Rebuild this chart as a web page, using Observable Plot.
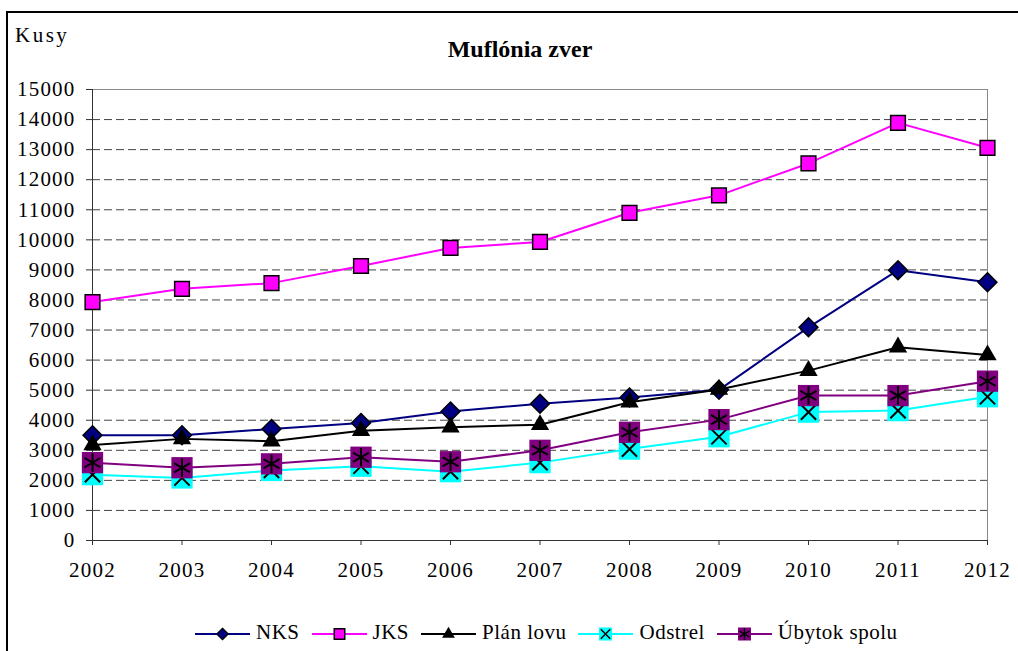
<!DOCTYPE html>
<html>
<head>
<meta charset="utf-8">
<script src="https://cdn.jsdelivr.net/npm/d3@7"></script>
<script src="https://cdn.jsdelivr.net/npm/@observablehq/plot@0.6"></script>
<style>
  body { margin: 0; background: #fff; }
  #wrap { position: relative; width: 1018px; height: 651px; overflow: hidden;
          font-family: "Liberation Serif", "Times New Roman", serif; color: #000; background: #fff; }
  #frame { position: absolute; left: 6px; top: 11px; width: 1100px; height: 700px;
           border: 2px solid #000; box-sizing: border-box; }
  #kusy { position: absolute; left: 15px; top: 25px; font-size: 21px; line-height: 1; letter-spacing: 2.5px; }
  #title { position: absolute; left: 520px; top: 37px; transform: translateX(-50%);
           font-size: 24px; font-weight: bold; line-height: 1; white-space: nowrap; }
  #chart { position: absolute; left: 0; top: 60px; }
  #legend { position: absolute; left: 195px; top: 622px; display: flex; align-items: flex-start;
            font-family: "Liberation Serif", "Times New Roman", serif;
            font-size: 21px; line-height: 1; white-space: nowrap; letter-spacing: 0.5px; }
  #legend .item { display: flex; align-items: flex-start; margin-right: 12px; }
  #legend svg { display: block; margin-right: 6px; margin-top: -1px; }
</style>
</head>
<body>
<div id="wrap">
  <div id="frame"></div>
  <div id="kusy">Kusy</div>
  <div id="title">Muflónia zver</div>
  <div id="chart"></div>
  <div id="legend"></div>
</div>
<script>
// ---- data ----
const years = [2002, 2003, 2004, 2005, 2006, 2007, 2008, 2009, 2010, 2011, 2012];
const seriesNames = ["NKS", "JKS", "Plán lovu", "Odstrel", "Úbytok spolu"];
const nks     = [3500, 3500, 3710, 3910, 4290, 4550, 4760, 5010, 7090, 8990, 8590];
const jks     = [7930, 8370, 8560, 9130, 9730, 9930, 10900, 11480, 12540, 13890, 13060];
const planLovu = [3180, 3380, 3300, 3650, 3770, 3850, 4600, 5020, 5650, 6430, 6170];
const odstrel = [2190, 2080, 2330, 2470, 2290, 2590, 3040, 3450, 4270, 4320, 4780];
const ubytok  = [2590, 2420, 2550, 2770, 2620, 3000, 3600, 4020, 4820, 4820, 5300];
const yTicks  = [0, 1000, 2000, 3000, 4000, 5000, 6000, 7000, 8000, 9000, 10000, 11000, 12000, 13000, 14000, 15000];

const seriesValues = [nks, jks, planLovu, odstrel, ubytok];
const rows = seriesNames.flatMap((name, i) =>
  years.map((year, j) => ({ series: name, year, value: seriesValues[i][j] })));

// ---- styles ----
const styles = {
  "NKS":          { color: "#000080", markers: [{ symbol: "diamond2", r: 8.5, fill: "#000080", stroke: "#000", sw: 1.5 }] },
  "JKS":          { color: "#ff00ff", markers: [{ symbol: "square", r: 8.3, fill: "#ff00ff", stroke: "#000", sw: 1.5 }] },
  "Plán lovu":    { color: "#000000", markers: [{ symbol: "triangle", r: 6.8, fill: "#000", stroke: "none", sw: 0 }] },
  "Odstrel":      { color: "#00ffff", markers: [{ symbol: "square", r: 12, fill: "#00ffff", stroke: "none", sw: 0 },
                                                 { symbol: "times", r: 7, fill: "none", stroke: "#000", sw: 2 }] },
  "Úbytok spolu": { color: "#800080", markers: [{ symbol: "square", r: 12, fill: "#800080", stroke: "none", sw: 0 },
                                                 { symbol: "asterisk", r: 8.8, fill: "none", stroke: "#000", sw: 2 }] }
};

const gridTicks = yTicks.filter(v => v > 0 && v < 15000);
const marks = [
  Plot.ruleY(gridTicks, { stroke: "#444", strokeDasharray: "8,4", strokeWidth: 1 }),
  Plot.ruleY([yTicks[yTicks.length - 1]], { stroke: "#888" }),
  Plot.ruleX([years[years.length - 1]], { stroke: "#888" }),
  Plot.ruleX([years[0]], { stroke: "#333" }),
  Plot.ruleY([0], { stroke: "#333" }),
  Plot.axisY({ ticks: yTicks, tickSize: 6, tickPadding: 11, tickFormat: d => String(d), stroke: "#333", fill: "#000", label: null }),
  Plot.axisX({ ticks: years, tickSize: 5, tickPadding: 17, tickFormat: d => String(d), stroke: "#333", fill: "#000", label: null })
];
for (const name of seriesNames) {
  const s = styles[name];
  const data = rows.filter(d => d.series === name);
  marks.push(Plot.line(data, { x: "year", y: "value", stroke: s.color, strokeWidth: 2 }));
  for (const m of s.markers) {
    marks.push(Plot.dot(data, { x: "year", y: "value", symbol: () => m.symbol, r: m.r,
      fill: m.fill, stroke: m.stroke, strokeWidth: m.sw }));
  }
}

const chart = Plot.plot({
  width: 1018, height: 530,
  marginTop: 29, marginBottom: 50, marginLeft: 92, marginRight: 31,
  x: { domain: [2002, 2012], axis: null },
  y: { domain: [0, 15000], axis: null },
  symbol: { type: "identity" },
  style: { fontFamily: '"Liberation Serif", "Times New Roman", serif', fontSize: "21px",
           letterSpacing: "1.2px", color: "#000", background: "transparent", overflow: "visible" },
  marks
});
document.getElementById("chart").appendChild(chart);

// ---- legend ----
const legendSym = {
  "NKS": [{ t: d3.symbolDiamond2, size: 85, fill: "#000080", stroke: "#000", sw: 1.2 }],
  "JKS": [{ t: d3.symbolSquare, size: 110, fill: "#ff00ff", stroke: "#000", sw: 1.5 }],
  "Plán lovu": [{ t: d3.symbolTriangle, size: 70, fill: "#000", stroke: "none", sw: 0 }],
  "Odstrel": [{ t: d3.symbolSquare, size: 170, fill: "#00ffff", stroke: "none", sw: 0 },
              { t: d3.symbolTimes, size: 60, fill: "none", stroke: "#000", sw: 1.5 }],
  "Úbytok spolu": [{ t: d3.symbolSquare, size: 170, fill: "#800080", stroke: "none", sw: 0 },
                   { t: d3.symbolAsterisk, size: 90, fill: "none", stroke: "#000", sw: 1.5 }]
};
const legend = d3.select("#legend");
for (const name of seriesNames) {
  const item = legend.append("div").attr("class", "item");
  const svg = item.append("svg").attr("width", 55).attr("height", 24);
  svg.append("line").attr("x1", 0).attr("x2", 55).attr("y1", 13).attr("y2", 13)
     .attr("stroke", styles[name].color).attr("stroke-width", 2);
  for (const m of legendSym[name]) {
    svg.append("path").attr("d", d3.symbol(m.t, m.size)()).attr("transform", "translate(27.5,13)")
       .attr("fill", m.fill).attr("stroke", m.stroke).attr("stroke-width", m.sw);
  }
  item.append("span").text(name);
}
</script>
</body>
</html>
